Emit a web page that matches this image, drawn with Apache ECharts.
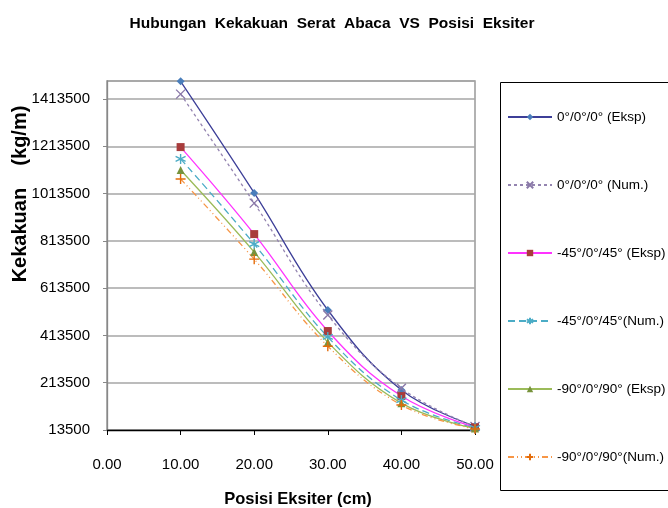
<!DOCTYPE html>
<html>
<head>
<meta charset="utf-8">
<script src="https://cdn.jsdelivr.net/npm/echarts@6/dist/echarts.min.js"></script>
<style>
  html, body { margin: 0; padding: 0; background: #fff; }
  #chart { width: 668px; height: 508px; }
</style>
</head>
<body>
<div id="chart"></div>
<script>
// posisi eksiter (cm)
const posisi = [10, 20, 30, 40, 50];

// kekakuan (kg/m)
const eksp0 = [1488000, 1016000, 521000, 183000, 30000];
const num0 = [1434000, 973000, 500000, 190000, 28000];
const eksp45 = [1210000, 842000, 432000, 157000, 25000];
const num45 = [1160000, 800000, 407000, 140000, 22000];
const eksp90 = [1113000, 766000, 385000, 127000, 20000];
const num90 = [1075000, 736000, 368000, 119000, 18000];

const namaSeri = [
    '0°/0°/0° (Eksp)',
    '0°/0°/0° (Num.)',
    '-45°/0°/45° (Eksp)',
    '-45°/0°/45°(Num.)',
    '-90°/0°/90° (Eksp)',
    '-90°/0°/90°(Num.)'
];

// sumbu y mulai dari 13500, tick tiap 200000
const dasar = 13500;
const langkah = 200000;

let dom = document.getElementById('chart');
let myChart = echarts.init(dom);

function titik(arr) {
    // geser nilai supaya min sumbu = 0 (kelipatan interval)
    return posisi.map((x, i) => [x, arr[i] - dasar]);
}

function seri(nama, arr, garis, warnaTitik, simbol, ukuran, tipe, stroke) {
    return {
        name: nama,
        type: 'line',
        data: titik(arr),
        smooth: 0.4,
        symbol: simbol,
        symbolSize: ukuran,
        showSymbol: true,
        lineStyle: { color: garis, width: 1.3, type: tipe },
        itemStyle: stroke
            ? { color: warnaTitik, borderColor: warnaTitik, borderWidth: 1.4 }
            : { color: warnaTitik, borderWidth: 0 },
        emphasis: { disabled: true }
    };
}

const symX = 'path://M0,0L10,10M10,0L0,10';
const symBintang = 'path://M5,0L5,10M0,2.5L10,7.5M10,2.5L0,7.5';
const symPlus = 'path://M5,0L5,10M0,5L10,5';

myChart.setOption({
    animation: false,
    title: {
        text: 'Hubungan  Kekakuan  Serat  Abaca  VS  Posisi  Eksiter',
        left: 327,
        top: 11,
        textAlign: 'center',
        textStyle: { fontFamily: 'Liberation Sans', fontSize: 15.5, fontWeight: 'bold', color: '#000' }
    },
    grid: {
        left: 107,
        right: 193,
        top: 81,
        bottom: 78,
        containLabel: false,
        outerBoundsMode: 'none',
        show: true,
        borderColor: '#999',
        borderWidth: 1.5
    },
    legend: {
        orient: 'vertical',
        left: 507,
        top: 110,
        padding: 0,
        itemWidth: 44,
        itemHeight: 8,
        itemGap: 54,
        textStyle: { fontFamily: 'Liberation Sans', fontSize: 13.5, color: '#000' },
        data: namaSeri
    },
    graphic: [
        {
            type: 'rect',
            left: 498,
            top: 80,
            shape: { width: 200, height: 408 },
            style: { fill: 'none', stroke: '#000', lineWidth: 1 }
        },
        {
            // judul sumbu y
            type: 'text',
            x: 20,
            y: 194,
            rotation: Math.PI / 2,
            style: {
                text: 'Kekakuan    (kg/m)',
                font: 'bold 20px "Liberation Sans"',
                fill: '#000',
                align: 'center',
                verticalAlign: 'middle'
            }
        }
    ],
    xAxis: {
        type: 'value',
        min: 0,
        max: 50,
        interval: 10,
        name: 'Posisi Eksiter (cm)',
        nameLocation: 'middle',
        nameGap: 61,
        nameMoveOverlap: false,
        nameTextStyle: { fontFamily: 'Liberation Sans', fontSize: 16.5, fontWeight: 'bold', color: '#000', padding: [0, 0, 0, 14] },
        axisLine: { lineStyle: { color: '#000', width: 1.3 } },
        axisTick: { show: true, length: 5, lineStyle: { color: '#000' } },
        axisLabel: {
            margin: 27,
            fontFamily: 'Liberation Sans',
            fontSize: 15,
            color: '#000',
            formatter: v => v.toFixed(2)
        },
        splitLine: { show: false }
    },
    yAxis: {
        type: 'value',
        min: 0,
        max: 1476000,
        interval: langkah,
        axisLine: { show: true, lineStyle: { color: '#888', width: 1.3 } },
        axisTick: { show: true, length: 4, lineStyle: { color: '#888' } },
        axisLabel: {
            margin: 17,
            fontFamily: 'Liberation Sans',
            fontSize: 15,
            color: '#000',
            showMaxLabel: false,
            formatter: v => String(v + dasar)
        },
        splitLine: { show: true, lineStyle: { color: '#a6a6a6', width: 1.5 } }
    },
    series: [
        seri(namaSeri[0], eksp0, '#3d3f98', '#4a7ebb', 'diamond', 8, 'solid', false),
        seri(namaSeri[1], num0, '#9484b0', '#8a78a8', symX, 9, [3, 3], true),
        seri(namaSeri[2], eksp45, '#ff33ff', '#a83c3c', 'rect', 8, 'solid', false),
        seri(namaSeri[3], num45, '#4bacc6', '#4bacc6', symBintang, 10, [7, 4], true),
        seri(namaSeri[4], eksp90, '#9bbb59', '#77933c', 'triangle', 8, 'solid', false),
        seri(namaSeri[5], num90, '#f79646', '#e46c0a', symPlus, 10, [6, 3, 1, 3, 1, 3], true)
    ]
});
</script>
</body>
</html>
